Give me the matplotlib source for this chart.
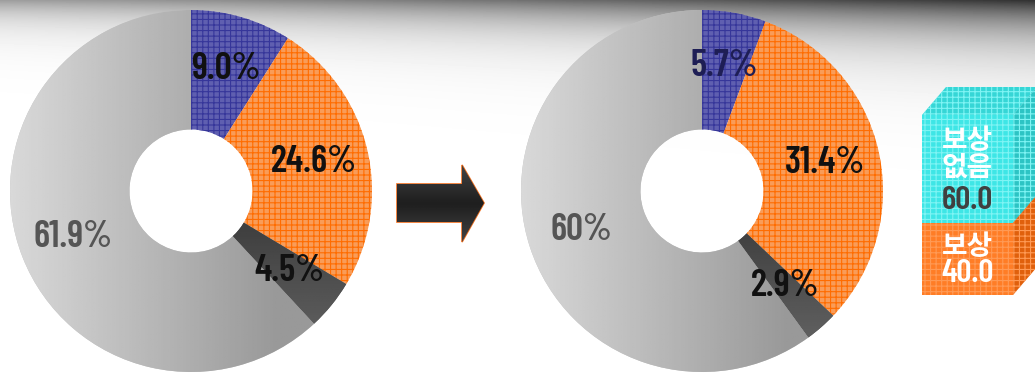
import numpy as np
import matplotlib.pyplot as plt
from matplotlib.patches import Polygon

plt.rcParams['font.family'] = ['Barlow Condensed', 'Liberation Sans Narrow', 'DejaVu Sans']
plt.rcParams['hatch.linewidth'] = 0.8

# slice shares, before and after
before = [9.0, 24.6, 4.5, 61.9]
after = [5.7, 31.4, 2.9, 60.0]
before_labels = ['9.0%', '24.6%', '4.5%', '61.9%']
after_labels = ['5.7%', '31.4%', '2.9%', '60%']

# stacked summary box on the right
stack_labels = ['보상\n없음', '보상']
stack_values = [60.0, 40.0]

W, H = 1035, 374
fig = plt.figure(figsize=(W / 100, H / 100), dpi=100)

# background: grey band fading out from the top edge
bg = fig.add_axes([0, 0, 1, 1])
bg.axis('off')
gx = np.linspace(0, 1, 300)
gy = np.arange(H)[:, None]
top = 0.62 - 0.42 * gx ** 1.3
fade = np.exp(-gy / (20 + 14 * gx))
band = 1 - (1 - top) * fade
bg.imshow(band, extent=[0, W, H, 0], cmap='gray', vmin=0, vmax=1, aspect='auto', zorder=0)

R, CY = 181, 191
slice_face = ['#5f5fb0', '#f99c58', '#555555', '#c4c4c4']
slice_hatch = ['#36369a', '#ff6c00', None, None]


def gradient_fill(ax, wedge, values):
    img = ax.imshow(values, extent=[-1, 1, -1, 1], origin='lower', cmap='gray',
                    vmin=0, vmax=1, aspect='auto', zorder=2)
    img.set_clip_path(wedge)


def donut(cx, values, labels, text_colors):
    ax = fig.add_axes([(cx - R) / W, (H - CY - R) / H, 2 * R / W, 2 * R / H])
    ax.set_facecolor('none')
    wedges, _ = ax.pie(values, radius=1, startangle=90, counterclock=False,
                       wedgeprops=dict(width=0.66, linewidth=0))
    for w, fc, hc in zip(wedges, slice_face, slice_hatch):
        w.set_facecolor(fc)
        if hc:
            w.set_edgecolor(hc)
            w.set_linewidth(0)
            w.set_hatch('+++')
    xs = np.linspace(-1, 1, 200)
    X, Y = np.meshgrid(xs, xs)
    # light slice: lighter on the outside left, darker towards the hole
    gradient_fill(ax, wedges[3], np.clip(0.85 - 0.17 * (X + 1), 0.6, 1))
    # dark slice: shaded from the hole downwards
    gradient_fill(ax, wedges[2], np.clip(0.27 + 0.2 * (-Y - 0.3), 0.25, 0.45))
    for w, lab, col in zip(wedges, labels, text_colors):
        ang = np.deg2rad((w.theta1 + w.theta2) / 2)
        ax.text(0.7 * np.cos(ang), 0.7 * np.sin(ang), lab, ha='center', va='center',
                fontsize=27, fontweight='semibold', color=col, zorder=5)
    ax.set_xlim(-1, 1)
    ax.set_ylim(-1, 1)
    ax.set_aspect('equal')
    ax.axis('off')
    return ax


donut(191, before, before_labels, ['#111111', '#111111', '#111111', '#555555'])
donut(702, after, after_labels, ['#1e1e55', '#111111', '#111111', '#555555'])

# arrow between the two charts
arrow = Polygon([(397, 184), (462, 184), (462, 165), (484, 203), (462, 242),
                 (462, 222), (397, 222)], closed=True, facecolor='#2a2a2a',
                edgecolor='#f07020', linewidth=1.2, zorder=3)
bg.add_patch(arrow)
ag = np.abs(np.linspace(-1, 1, 100))[:, None] * np.ones((1, 10))
aimg = bg.imshow(0.12 + 0.14 * ag, extent=[397, 484, 242, 165], cmap='gray',
                 vmin=0, vmax=1, aspect='auto', zorder=3.5)
aimg.set_clip_path(arrow)

# 3D-style stacked box
x0, x1 = 922, 1013
dx, dy = 24, 28
base = 295
px_per_unit = 180 / sum(stack_values)
box_front = ['#3ee6e6', '#ff7d26']
box_side = ['#2cc4c4', '#e0600c']
box_top = ['#36d6d6', '#f07018']
box_hatch = ['#7ff4f4', '#ff9a55']
tops = []
y = base
for v in stack_values[::-1]:
    tops.append((y - v * px_per_unit, y))
    y -= v * px_per_unit
tops = tops[::-1]
for (yt, yb), fc, sc, tc, hc in zip(tops, box_front, box_side, box_top, box_hatch):
    bg.add_patch(Polygon([(x0, yt), (x1, yt), (x1, yb), (x0, yb)], facecolor=fc,
                         edgecolor=hc, linewidth=0, hatch='+++', zorder=4))
    bg.add_patch(Polygon([(x1, yt), (x1 + dx, yt - dy), (x1 + dx, yb - dy), (x1, yb)],
                         facecolor=sc, edgecolor=hc, linewidth=0, hatch='+++', zorder=3.9))
    bg.add_patch(Polygon([(x0, yt), (x0 + dx, yt - dy), (x1 + dx, yt - dy), (x1, yt)],
                         facecolor=tc, edgecolor=hc, linewidth=0, hatch='+++', zorder=3.8))

xc = (x0 + x1) / 2
(c_top, c_bot), (o_top, o_bot) = tops
c_mid, o_mid = (c_top + c_bot) / 2, (o_top + o_bot) / 2
kfont = ['Noto Sans CJK KR', 'DejaVu Sans']
bg.text(xc, c_mid - 15, stack_labels[0], ha='center', va='center', fontsize=20,
        fontweight='bold', color='white', family=kfont, linespacing=0.95, zorder=6)
bg.text(xc, c_mid + 31, f'{stack_values[0]:.1f}', ha='center', va='center', fontsize=24,
        fontweight='semibold', color='#404040', zorder=6)
bg.text(xc, o_mid - 12, stack_labels[1], ha='center', va='center', fontsize=20,
        fontweight='bold', color='white', family=kfont, zorder=6)
bg.text(xc, o_mid + 15, f'{stack_values[1]:.1f}', ha='center', va='center', fontsize=24,
        fontweight='semibold', color='white', zorder=6)

bg.set_xlim(0, W)
bg.set_ylim(H, 0)
fig.savefig('out.png', dpi=100)
